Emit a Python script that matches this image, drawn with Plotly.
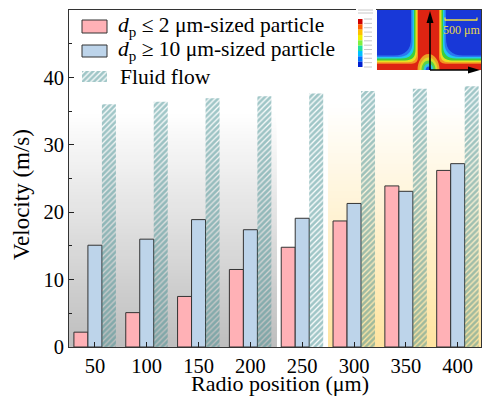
import plotly.graph_objects as go

# ---------------- data ----------------
positions = ["50", "100", "150", "200", "250", "300", "350", "400"]
small_particle = [2.2, 5.1, 7.5, 11.5, 14.8, 18.7, 23.9, 26.2]
large_particle = [15.1, 16.0, 18.9, 17.4, 19.1, 21.3, 23.1, 27.2]
fluid_flow = [36.0, 36.4, 36.9, 37.2, 37.6, 38.0, 38.3, 38.7]
y_ticks = [0, 10, 20, 30, 40]
y_minor = [5, 15, 25, 35, 45]
legend_names = ["<i>d</i><sub>p</sub> ≤ 2 μm-sized particle",
                "<i>d</i><sub>p</sub> ≥ 10 μm-sized particle",
                "Fluid flow"]
x_title = "Radio position (μm)"
y_title = "Velocity (m/s)"

PINK = "#FFB1B6"
BLUE = "#BDD4EA"
TEAL = "#418E90"
FONT = "Liberation Serif"

W, H = 483, 398
ML, MR, MT, MB = 69, 2, 10, 51
PW, PH = W - ML - MR, H - MT - MB


def X(px):
    return (px - ML) / PW


def Y(py):
    return (H - MB - py) / PH


idx = list(range(len(positions)))
hatch = dict(shape="/", fgcolor=TEAL, bgcolor="rgba(0,0,0,0)", size=4, solidity=0.68)

fig = go.Figure()
fig.add_trace(go.Bar(x=idx, y=small_particle, name=legend_names[0],
                     marker=dict(color=PINK, line=dict(color="#333333", width=1)),
                     showlegend=False))
fig.add_trace(go.Bar(x=idx, y=large_particle, name=legend_names[1],
                     marker=dict(color=BLUE, line=dict(color="#333333", width=1)),
                     showlegend=False))
fig.add_trace(go.Bar(x=idx, y=fluid_flow, name=legend_names[2],
                     marker=dict(color="rgba(0,0,0,0)", line=dict(width=0), pattern=hatch),
                     showlegend=False))

# legend swatch for hatched series (tiny subplot)
fig.add_trace(go.Bar(x=[0], y=[1], width=[1], xaxis="x3", yaxis="y3",
                     marker=dict(color="rgba(0,0,0,0)", line=dict(width=0), pattern=hatch),
                     showlegend=False, hoverinfo="skip"))

shapes = []

# background gradients (nested rects, drawn below traces -> no seams)
N = 70
for k in range(N, 0, -1):
    v1 = 35 * k / N
    t = (v1 - 35 / N / 2) / 35
    g = int(round(190 + 65 * t))
    shapes.append(dict(type="rect", xref="x", yref="y", x0=-0.5, x1=3.5,
                       y0=0, y1=v1, fillcolor=f"rgb({g},{g},{g})",
                       line=dict(width=0), layer="below"))
for k in range(N, 0, -1):
    v1 = 36 * k / N
    t = (v1 - 36 / N / 2) / 36
    gg = int(round(228 + 27 * t))
    bb = int(round(160 + 95 * t))
    shapes.append(dict(type="rect", xref="x", yref="y", x0=4.5, x1=7.6,
                       y0=0, y1=v1, fillcolor=f"rgb(255,{gg},{bb})",
                       line=dict(width=0), layer="below"))

# legend swatches
shapes.append(dict(type="rect", xref="paper", yref="paper", x0=X(82), x1=X(107),
                   y0=Y(33), y1=Y(20), fillcolor=PINK,
                   line=dict(color="#333333", width=1)))
shapes.append(dict(type="rect", xref="paper", yref="paper", x0=X(82), x1=X(107),
                   y0=Y(57), y1=Y(45), fillcolor=BLUE,
                   line=dict(color="#333333", width=1)))


def pt(x, y):
    return f"{X(x):.5f},{Y(y):.5f}"


def add_path(d, color):
    shapes.append(dict(type="path", xref="paper", yref="paper", path=d,
                       fillcolor=color, line=dict(width=0), layer="above"))


def add_line(x0, y0, x1, y1, color, width):
    shapes.append(dict(type="line", xref="paper", yref="paper",
                       x0=X(x0), x1=X(x1), y0=Y(y0), y1=Y(y1),
                       line=dict(color=color, width=width), layer="above"))


# ---------- inset (simulation image) ----------
IL, IR, IT, IB = 377, 481, 10, 70
add_path(f"M{pt(IL,IT)} L{pt(IR,IT)} L{pt(IR,IB)} L{pt(IL,IB)} Z", "#1838d8")

c = 428.5
layers = [("#2a78f0", 17.5, 14.5, 17), ("#22c6ee", 16, 13, 15),
          ("#3ccf3c", 14.5, 11.5, 13), ("#e6e022", 13, 9.5, 10.5),
          ("#f59222", 11.6, 7.8, 8.5), ("#de2412", 10.5, 6.2, 6.5)]
for col, w, h, r in layers:
    d = (f"M{pt(c-w,IT)} L{pt(c-w,IB-h-r)} Q{pt(c-w,IB-h)} {pt(c-w-r,IB-h)} "
         f"L{pt(IL,IB-h)} L{pt(IL,IB)} L{pt(IR,IB)} L{pt(IR,IB-h)} "
         f"L{pt(c+w+r,IB-h)} Q{pt(c+w,IB-h)} {pt(c+w,IB-h-r)} L{pt(c+w,IT)} Z")
    add_path(d, col)

k = 0.5523
for col, rx, ry in [("#eaa226", 11, 16), ("#d8dc2a", 9, 12.5), ("#58d24a", 7, 9.5),
                    ("#2ec4e4", 4.8, 6.5), ("#2050e0", 2.8, 3.5)]:
    cx, cy = c, IB
    d = (f"M{pt(cx-rx,cy)} C{pt(cx-rx,cy-k*ry)} {pt(cx-k*rx,cy-ry)} {pt(cx,cy-ry)} "
         f"C{pt(cx+k*rx,cy-ry)} {pt(cx+rx,cy-k*ry)} {pt(cx+rx,cy)} Z")
    add_path(d, col)

# colour bar of inset
add_path(f"M{pt(356,8)} L{pt(376,8)} L{pt(376,73)} L{pt(356,73)} Z", "#ffffff")
cb_cols = ["#d00000", "#ff6000", "#ffc000", "#f0f000", "#80f040", "#20e0a0",
           "#00c0ff", "#0070ff", "#0020d0"]
ytop, ybot = 19, 67
hseg = (ybot - ytop) / len(cb_cols)
for i, col in enumerate(cb_cols):
    add_path(f"M{pt(358,ytop+i*hseg)} L{pt(362.5,ytop+i*hseg)} "
             f"L{pt(362.5,ytop+(i+1)*hseg)} L{pt(358,ytop+(i+1)*hseg)} Z", col)
for i in range(12):
    yy = ytop + i * (ybot - ytop) / 11
    add_line(364, yy, 372, yy, "#c8c8c8", 1)
for yy in (10, 13):
    add_line(358, yy, 373, yy, "#c8c8c8", 1)

# scale bar
add_line(445, 20, 477, 20, "#f0e040", 1.5)
for xx in (445, 477):
    add_line(xx, 17.5, xx, 20.5, "#f0e040", 1.2)

# axes arrows of inset
add_line(430, 70, 430, 20, "black", 1.6)
add_path(f"M{pt(430,11)} L{pt(426.5,23)} L{pt(433.5,23)} Z", "black")
add_line(430, 70, 469, 70, "black", 1.6)
add_path(f"M{pt(480,70)} L{pt(468,66.5)} L{pt(468,73.5)} Z", "black")

annotations = []
for i, (name, yc, xs) in enumerate(zip(legend_names, [27, 51, 77], [116, 116, 118])):
    annotations.append(dict(text=name, xref="paper", yref="paper", x=X(xs), y=Y(yc),
                            xanchor="left", yanchor="middle", showarrow=False,
                            font=dict(family=FONT, size=21.5, color="black")))

annotations.append(dict(text="500 μm", xref="paper", yref="paper", x=X(461), y=Y(30),
                        xanchor="center", yanchor="middle", showarrow=False,
                        font=dict(family=FONT, size=12, color="#e8d848")))

# axis titles
annotations.append(dict(text=x_title, xref="paper", yref="paper", x=X(280), y=Y(397.5),
                        xanchor="center", yanchor="bottom", showarrow=False,
                        font=dict(family=FONT, size=22, color="black")))
annotations.append(dict(text=y_title, xref="paper", yref="paper", x=X(21), y=Y(195),
                        xanchor="center", yanchor="middle", showarrow=False,
                        textangle=-90,
                        font=dict(family=FONT, size=23, color="black")))

fig.update_layout(
    width=W, height=H,
    margin=dict(l=ML, r=MR, t=MT, b=MB, pad=0),
    paper_bgcolor="white", plot_bgcolor="white",
    barmode="group", bargap=0.19, bargroupgap=0,
    font=dict(family=FONT, color="black", size=21),
    shapes=shapes, annotations=annotations,
    xaxis=dict(range=[-0.5, 7.45], tickmode="array", tickvals=idx, ticktext=positions,
               ticks="inside", ticklen=5, tickcolor="#222", showline=True,
               linecolor="#333", linewidth=1, mirror=True, showgrid=False,
               zeroline=False, tickfont=dict(size=20.5)),
    yaxis=dict(range=[0, 50], tickmode="array", tickvals=y_ticks,
               ticks="inside", ticklen=5, tickcolor="#222", showline=True,
               linecolor="#333", linewidth=1, mirror=True, showgrid=False,
               zeroline=False, tickfont=dict(size=20.5),
               minor=dict(tickvals=y_minor, ticks="inside", ticklen=3,
                          tickcolor="#222", showgrid=False)),
    xaxis3=dict(domain=[X(82), X(107)], range=[-0.5, 0.5], visible=False,
                anchor="y3", fixedrange=True),
    yaxis3=dict(domain=[Y(82), Y(71)], range=[0, 1], visible=False,
                anchor="x3", fixedrange=True),
)

fig.write_html("out.html")
